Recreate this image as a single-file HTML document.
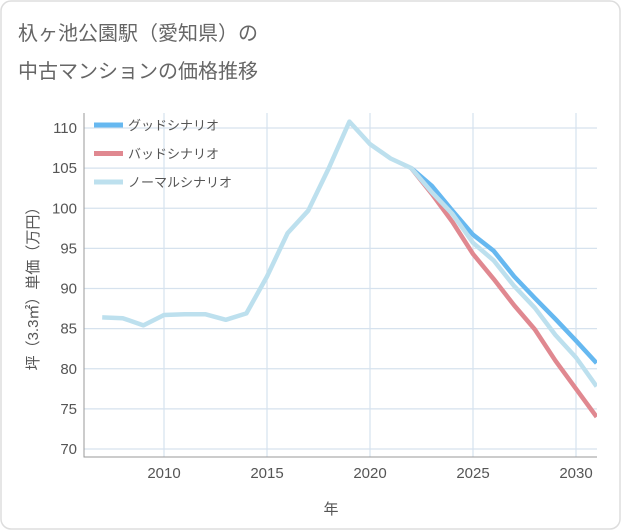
<!DOCTYPE html>
<html><head><meta charset="utf-8">
<style>
body{margin:0;background:#fff;}
#wrap{position:relative;width:621px;height:530px;overflow:hidden;font-family:"Liberation Sans","Noto Sans CJK JP",sans-serif;}
</style></head>
<body>
<div id="wrap">
<svg id="chart" width="621" height="530" xmlns="http://www.w3.org/2000/svg">
<rect x="1" y="1" width="619" height="528" rx="10" fill="#fff" stroke="#ddd" stroke-width="1.5"/>
<text x="18" y="40" font-size="20" fill="#666" font-family="Liberation Sans, Noto Sans CJK JP, sans-serif">杁ヶ池公園駅（愛知県）の</text>
<text x="18" y="78" font-size="20" fill="#666" font-family="Liberation Sans, Noto Sans CJK JP, sans-serif">中古マンションの価格推移</text>
<g id="grid"></g>
<g id="series"></g>
<g id="axes"></g>
<g id="legend"></g>
<text x="331" y="514" font-size="15" fill="#555" text-anchor="middle" font-family="Liberation Sans, Noto Sans CJK JP, sans-serif">年</text>
<text transform="translate(38,285) rotate(-90)" font-size="15" fill="#555" text-anchor="middle" font-family="Liberation Sans, Noto Sans CJK JP, sans-serif">坪（3.3㎡）単価（万円）</text>
</svg>
</div>
<script>
const years=[2007,2008,2009,2010,2011,2012,2013,2014,2015,2016,2017,2018,2019,2020,2021,2022,2023,2024,2025,2026,2027,2028,2029,2030,2031];
const normalValues=[86.4,86.3,85.4,86.7,86.8,86.8,86.1,86.9,91.5,96.9,99.7,105,110.8,108,106.2,105.0,102.0,99.3,95.7,93.5,90.3,87.6,84.2,81.4,77.8];
const goodYears=[2022,2023,2024,2025,2026,2027,2028,2029,2030,2031];
const goodValues=[105,102.8,99.7,96.7,94.7,91.5,88.8,86.2,83.5,80.7];
const badYears=[2022,2023,2024,2025,2026,2027,2028,2029,2030,2031];
const badValues=[105,101.8,98.3,94.3,91.2,87.9,84.9,81,77.5,74];
const xTicks=[2010,2015,2020,2025,2030];
const yTicks=[70,75,80,85,90,95,100,105,110];
const legendLabels=["グッドシナリオ","バッドシナリオ","ノーマルシナリオ"];
const legendColors=["#66b8f0","#e08890","#bde0ee"];

const NS="http://www.w3.org/2000/svg";
const L=84,R=597,T=113,B=457;
function xs(v){return 164+(v-2010)*(576-164)/20;}
function ys(v){return 449-(v-70)*(449-128)/40;}
function mk(tag,attrs,parent){const e=document.createElementNS(NS,tag);for(const k in attrs)e.setAttribute(k,attrs[k]);parent.appendChild(e);return e;}
const grid=document.getElementById('grid'),axes=document.getElementById('axes'),ser=document.getElementById('series'),leg=document.getElementById('legend');
mk('rect',{x:L,y:T,width:R-L,height:B-T,fill:'#fff'},grid);
for(const t of xTicks){
  const l=mk('line',{x1:xs(t),x2:xs(t),y1:T,y2:B,stroke:'#d6e2ee','stroke-width':1.2},grid);
  
  
  const tx=mk('text',{x:xs(t),y:478,'font-size':15,fill:'#555','text-anchor':'middle'},axes);
  tx.textContent=t;
  
  
}
for(const t of yTicks){
  const l=mk('line',{x1:L,x2:R,y1:ys(t),y2:ys(t),stroke:'#d6e2ee','stroke-width':1.2},grid);
  
  
  const tx=mk('text',{x:77,y:ys(t)+5,'font-size':15,fill:'#555','text-anchor':'end'},axes);
  tx.textContent=t;
  
  
}
const ax=mk('path',{d:`M${L},${T}V${B}H${R}`,fill:'none',stroke:'#999','stroke-width':1},axes);


const clip=mk('clipPath',{id:'pc'},ser);mk('rect',{x:L,y:T-10,width:R-L,height:B-T+10},clip);
function line(xa,va,color,name){
  const d=xa.map((x,i)=>(i?'L':'M')+xs(x).toFixed(1)+','+ys(va[i]).toFixed(1)).join('');
  const p=mk('path',{d,fill:'none',stroke:color,'stroke-width':4.5,'stroke-linejoin':'round','clip-path':'url(#pc)'},ser);
  
  
}
line(goodYears,goodValues,legendColors[0],'good-scenario-line');
line(badYears,badValues,legendColors[1],'bad-scenario-line');
line(years,normalValues,legendColors[2],'normal-scenario-line');
legendLabels.forEach((lab,i)=>{
  const y=125+i*28.5;
  const g=mk('g',{},leg);
  
  
  mk('line',{x1:94,x2:123,y1:y,y2:y,stroke:legendColors[i],'stroke-width':5},g);
  const t=mk('text',{x:128,y:y+5,'font-size':13,fill:'#555'},g);
  t.textContent=lab;
});
</script>
</body></html>
